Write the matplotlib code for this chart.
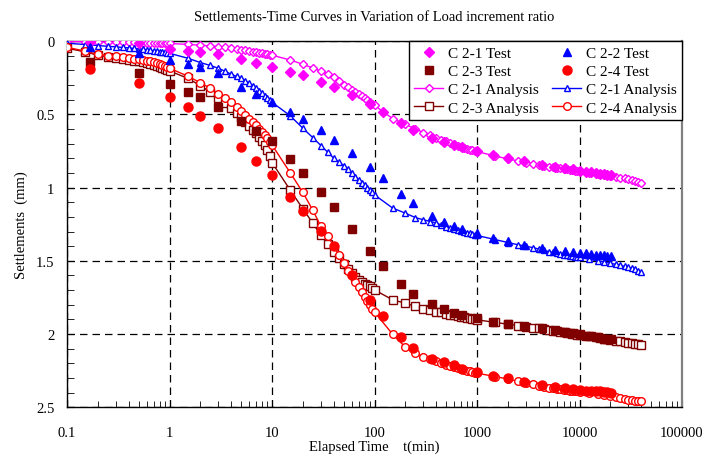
import matplotlib
matplotlib.use("Agg")
import matplotlib.pyplot as plt
from matplotlib.ticker import FixedLocator, NullFormatter, LogLocator

plt.rcParams['font.family'] = ['Liberation Serif', 'DejaVu Serif']

# ---------------- data ----------------
t_test = [0.167, 0.5, 1, 1.5, 2, 3, 5, 7, 10, 15, 20, 30, 40, 60, 90, 120, 180, 240,
          360, 480, 600, 720, 1000, 1440, 2000, 2880, 4320, 5760, 7200, 8640, 10080,
          11520, 12960, 14400, 15840, 17280, 18720, 20160]

c21_test = [0.005, 0.016, 0.057, 0.068, 0.078, 0.09, 0.125, 0.153, 0.175, 0.213, 0.235,
            0.28, 0.312, 0.369, 0.43, 0.482, 0.557, 0.607, 0.66, 0.69, 0.71, 0.725, 0.75,
            0.778, 0.797, 0.82, 0.845, 0.86, 0.87, 0.877, 0.885, 0.892, 0.897, 0.902,
            0.906, 0.91, 0.913, 0.917]
c22_test = [0.039, 0.085, 0.13, 0.157, 0.18, 0.221, 0.312, 0.362, 0.419, 0.482, 0.532,
            0.609, 0.673, 0.766, 0.862, 0.937, 1.041, 1.107, 1.194, 1.232, 1.262, 1.28,
            1.31, 1.343, 1.365, 1.39, 1.413, 1.424, 1.432, 1.438, 1.444, 1.448, 1.453,
            1.457, 1.461, 1.463, 1.466, 1.47]
c23_test = [0.143, 0.221, 0.292, 0.346, 0.38, 0.453, 0.545, 0.615, 0.686, 0.805, 0.898,
            1.034, 1.136, 1.282, 1.43, 1.536, 1.661, 1.727, 1.795, 1.83, 1.855, 1.87,
            1.89, 1.915, 1.93, 1.945, 1.96, 1.975, 1.985, 1.995, 2.0, 2.01, 2.015, 2.02,
            2.025, 2.03, 2.032, 2.035]
c24_test = [0.19, 0.284, 0.384, 0.45, 0.509, 0.591, 0.725, 0.819, 0.916, 1.068, 1.16,
            1.296, 1.40, 1.60, 1.77, 1.873, 2.02, 2.095, 2.168, 2.193, 2.21, 2.235, 2.26,
            2.283, 2.30, 2.325, 2.345, 2.36, 2.37, 2.375, 2.38, 2.385, 2.385, 2.39, 2.39,
            2.392, 2.395, 2.398]

t_an = [0.1, 0.15, 0.2, 0.25, 0.3, 0.35, 0.4, 0.45, 0.5, 0.55, 0.6, 0.65, 0.7, 0.75, 0.8,
        0.85, 0.9, 0.95, 1.0,
        1.5, 2, 2.5, 3, 3.5, 4, 4.5, 5, 5.5, 6, 6.5, 7, 7.5, 8, 8.5, 9, 9.5, 10,
        15, 20, 25, 30, 35, 40, 45, 50, 55, 60, 65, 70, 75, 80, 85, 90, 95, 100,
        150, 200, 250, 300, 350, 400, 450, 500, 550, 600, 650, 700, 750, 800, 850, 900,
        950, 1000,
        1500, 2000, 2500, 3000, 3500, 4000, 4500, 5000, 5500, 6000, 6500, 7000, 7500,
        8000, 8500, 9000, 9500, 10000,
        12500, 15000, 17500, 20000, 22500, 25000, 27500, 30000, 32500, 35000, 37500, 40000]

c21_an = [0.005, 0.006, 0.007, 0.008, 0.009, 0.010, 0.011, 0.011, 0.012, 0.012, 0.013,
          0.014, 0.014, 0.015, 0.015, 0.016, 0.017, 0.017, 0.018,
          0.024, 0.03, 0.035, 0.04, 0.045, 0.05, 0.055, 0.06, 0.064, 0.069, 0.073, 0.077,
          0.081, 0.085, 0.088, 0.092, 0.095, 0.098,
          0.13, 0.16, 0.185, 0.207, 0.227, 0.245, 0.272, 0.30, 0.318, 0.335, 0.348, 0.36,
          0.375, 0.39, 0.403, 0.415, 0.428, 0.44,
          0.53, 0.57, 0.60, 0.625, 0.643, 0.66, 0.673, 0.685, 0.695, 0.705, 0.715, 0.725,
          0.731, 0.737, 0.742, 0.747, 0.751, 0.755,
          0.785, 0.805, 0.818, 0.83, 0.838, 0.845, 0.851, 0.857, 0.861, 0.865, 0.869,
          0.873, 0.876, 0.879, 0.882, 0.885, 0.887, 0.89,
          0.9, 0.908, 0.915, 0.921, 0.927, 0.933, 0.938, 0.945, 0.951, 0.958, 0.965, 0.972]

c22_an = [0.016, 0.025, 0.032, 0.037, 0.041, 0.045, 0.048, 0.052, 0.055, 0.058, 0.061,
          0.064, 0.067, 0.07, 0.073, 0.076, 0.079, 0.082, 0.085,
          0.118, 0.148, 0.168, 0.187, 0.208, 0.228, 0.242, 0.255, 0.272, 0.29, 0.307,
          0.323, 0.34, 0.357, 0.373, 0.389, 0.404, 0.419,
          0.51, 0.596, 0.66, 0.714, 0.76, 0.80, 0.827, 0.85, 0.877, 0.90, 0.925, 0.948,
          0.968, 0.985, 1.0, 1.017, 1.034, 1.05,
          1.14, 1.175, 1.205, 1.22, 1.232, 1.243, 1.255, 1.266, 1.274, 1.282, 1.289,
          1.296, 1.302, 1.308, 1.313, 1.318, 1.323, 1.327,
          1.355, 1.375, 1.39, 1.40, 1.41, 1.419, 1.428, 1.437, 1.443, 1.448, 1.453,
          1.458, 1.462, 1.466, 1.469, 1.472, 1.475, 1.477,
          1.49, 1.5, 1.508, 1.516, 1.524, 1.531, 1.538, 1.545, 1.552, 1.559, 1.567, 1.577]

c23_an = [0.05, 0.075, 0.098, 0.108, 0.115, 0.122, 0.128, 0.134, 0.14, 0.146, 0.152,
          0.158, 0.164, 0.171, 0.178, 0.185, 0.192, 0.198, 0.205,
          0.255, 0.305, 0.35, 0.39, 0.425, 0.46, 0.49, 0.52, 0.55, 0.58, 0.605, 0.63,
          0.655, 0.68, 0.712, 0.745, 0.785, 0.83,
          1.016, 1.146, 1.243, 1.327, 1.386, 1.437, 1.48, 1.52, 1.555, 1.585, 1.608,
          1.628, 1.645, 1.656, 1.666, 1.675, 1.687, 1.698,
          1.766, 1.789, 1.811, 1.828, 1.838, 1.846, 1.852, 1.862, 1.867, 1.872, 1.877,
          1.881, 1.885, 1.889, 1.893, 1.896, 1.899, 1.902,
          1.92, 1.932, 1.941, 1.948, 1.955, 1.961, 1.966, 1.971, 1.976, 1.98, 1.984,
          1.988, 1.991, 1.994, 1.997, 2.0, 2.003, 2.005,
          2.014, 2.022, 2.031, 2.039, 2.044, 2.049, 2.054, 2.058, 2.062, 2.066, 2.07, 2.073]

c24_an = [0.044, 0.07, 0.092, 0.1, 0.106, 0.111, 0.116, 0.121, 0.125, 0.13, 0.135, 0.14,
          0.146, 0.152, 0.158, 0.165, 0.172, 0.18, 0.187,
          0.24, 0.286, 0.323, 0.36, 0.391, 0.42, 0.45, 0.478, 0.504, 0.53, 0.553, 0.575,
          0.598, 0.62, 0.642, 0.665, 0.688, 0.71,
          0.898, 1.034, 1.155, 1.265, 1.33, 1.4, 1.46, 1.515, 1.566, 1.6, 1.645, 1.68,
          1.715, 1.745, 1.772, 1.8, 1.826, 1.85,
          2.0, 2.089, 2.13, 2.155, 2.172, 2.186, 2.198, 2.207, 2.215, 2.222, 2.229, 2.236,
          2.242, 2.248, 2.253, 2.258, 2.262, 2.266,
          2.289, 2.306, 2.321, 2.334, 2.343, 2.351, 2.358, 2.364, 2.369, 2.373, 2.377,
          2.38, 2.383, 2.385, 2.387, 2.389, 2.39, 2.392,
          2.402, 2.41, 2.418, 2.425, 2.431, 2.437, 2.442, 2.447, 2.451, 2.455, 2.457, 2.459]

x_ticks = [0.1, 1, 10, 100, 1000, 10000, 100000]
x_ticklabels = ["0.1", "1", "10", "100", "1000", "10000", "100000"]
y_ticks = [0, 0.5, 1, 1.5, 2, 2.5]
y_ticklabels = ["0", "0.5", "1", "1.5", "2", "2.5"]

title = "Settlements-Time Curves in Variation of Load increment ratio"
xlabel = "Elapsed Time    t(min)"
ylabel = "Settlements  (mm)"

MAG, BLU, DRD, RED = "#FF00FF", "#0000FF", "#800000", "#FF0000"

# ---------------- figure ----------------
fig = plt.figure(figsize=(7.06, 4.60), dpi=100)
ax = fig.add_axes([0.095, 0.112, 0.871, 0.797])

# analysis curves
a1, = ax.plot(t_an, c21_an, color=MAG, lw=1.0, marker='D', ms=3.6, mfc='white',
              mec=MAG, mew=1.0, label="C 2-1 Analysis", zorder=3)
a2, = ax.plot(t_an, c22_an, color=BLU, lw=1.0, marker='^', ms=4.5, mfc='white',
              mec=BLU, mew=1.0, label="C 2-1 Analysis", zorder=3)
a3, = ax.plot(t_an, c23_an, color=DRD, lw=1.0, marker='s', ms=5.5, mfc='white',
              mec=DRD, mew=1.0, label="C 2-3 Analysis", zorder=3)
a4, = ax.plot(t_an, c24_an, color=RED, lw=1.0, marker='o', ms=5.5, mfc='white',
              mec=RED, mew=1.0, label="C 2-4 Analysis", zorder=3)

# test data
s1, = ax.plot(t_test, c21_test, ls='none', marker='D', ms=5, color=MAG,
              label="C 2-1 Test", zorder=4)
s2, = ax.plot(t_test, c22_test, ls='none', marker='^', ms=6, color=BLU,
              label="C 2-2 Test", zorder=4)
s3, = ax.plot(t_test, c23_test, ls='none', marker='s', ms=6, color=DRD,
              label="C 2-3 Test", zorder=4)
s4, = ax.plot(t_test, c24_test, ls='none', marker='o', ms=6.5, color=RED,
              label="C 2-4 Test", zorder=4)

ax.set_xscale('log')
ax.set_xlim(0.1, 100000)
ax.set_ylim(2.5, 0)

ax.xaxis.set_major_locator(FixedLocator(x_ticks))
ax.set_xticklabels(x_ticklabels)
ax.xaxis.set_minor_locator(LogLocator(base=10, subs=[2, 3, 4, 5, 6, 7, 8, 9], numticks=20))
ax.xaxis.set_minor_formatter(NullFormatter())
ax.yaxis.set_major_locator(FixedLocator(y_ticks))
ax.set_yticklabels(y_ticklabels)
ax.yaxis.set_minor_locator(FixedLocator([i / 10 for i in range(26)]))

ax.tick_params(axis='both', which='both', direction='in', labelsize=10.5, color='black')
ax.tick_params(axis='x', which='major', length=5, pad=13)
ax.tick_params(axis='x', which='minor', length=4)
ax.tick_params(axis='y', which='major', length=5, pad=9)
ax.tick_params(axis='y', which='minor', length=5)

ax.grid(True, which='major', color='black', ls=(0, (6, 4)), lw=0.9)

for side in ['left', 'bottom', 'top']:
    ax.spines[side].set_color('black')
    ax.spines[side].set_linewidth(1.0)
ax.spines['right'].set_color('#808080')
ax.spines['right'].set_linewidth(1.6)

ax.set_title(title, fontsize=10.5, pad=15)
ax.set_xlabel(xlabel, fontsize=10.5, labelpad=1)
ax.set_ylabel(ylabel, fontsize=10.5, labelpad=6)

handles = [s1, s3, a1, a3, s2, s4, a2, a4]
leg = ax.legend(handles=handles, labels=[h.get_label() for h in handles], ncol=2,
                loc='upper right', bbox_to_anchor=(1.0, 1.0), fontsize=11,
                frameon=True, fancybox=False, edgecolor='black', framealpha=1,
                borderpad=0.35, labelspacing=0.3, handlelength=1.9, handletextpad=0.3,
                columnspacing=0.9, borderaxespad=0.0)
leg.get_frame().set_linewidth(1.0)

fig.savefig("out.png", dpi=100)
